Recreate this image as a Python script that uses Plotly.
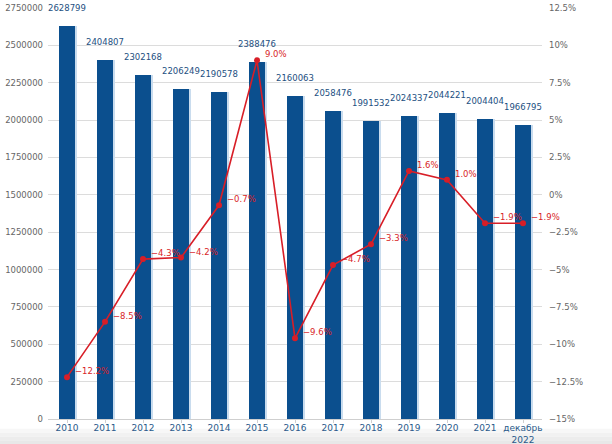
import plotly.graph_objects as go

categories = ["2010", "2011", "2012", "2013", "2014", "2015", "2016", "2017",
              "2018", "2019", "2020", "2021", "декабрь<br>2022"]
values = [2628799, 2404807, 2302168, 2206249, 2190578, 2388476, 2160063,
          2058476, 1991532, 2024337, 2044221, 2004404, 1966795]
changes = [-12.2, -8.5, -4.3, -4.2, -0.7, 9.0, -9.6, -4.7, -3.3, 1.6, 1.0, -1.9, -1.9]

left_ticks = list(range(0, 2750001, 250000))
right_ticks = [-15, -12.5, -10, -7.5, -5, -2.5, 0, 2.5, 5, 7.5, 10, 12.5]

def fmt_tick(v):
    s = ("%g" % abs(v)) + "%"
    return ("−" + s) if v < 0 else s

def fmt_label(v):
    s = ("%.1f" % abs(v)) + "%"
    return ("−" + s) if v < 0 else s

FONT = "DejaVu Sans"
BAR = "#0b4f8e"
SHADOW = "#c9dcee"
RED = "#d81e27"

x = list(range(len(categories)))

fig = go.Figure()
# shadow bars
fig.add_trace(go.Bar(x=x, y=values, width=0.4, offset=-0.2 + 0.07,
                     marker=dict(color=SHADOW, line=dict(width=0)),
                     hoverinfo="skip", showlegend=False))
fig.add_trace(go.Bar(x=x, y=values, width=0.4, offset=-0.2,
                     marker=dict(color=BAR, line=dict(width=0)),
                     showlegend=False))
fig.add_trace(go.Scatter(x=x, y=changes, yaxis="y2", mode="lines+markers",
                         line=dict(color=RED, width=1.6),
                         marker=dict(color=RED, size=6),
                         showlegend=False))

annotations = []
for xi, v in zip(x, values):
    annotations.append(dict(x=xi, y=v, xref="x", yref="y", text=str(v),
                            showarrow=False, yanchor="bottom", yshift=11,
                            font=dict(family=FONT, size=8.5, color="#1d4f7f")))
for xi, c in zip(x, changes):
    annotations.append(dict(x=xi, y=c, xref="x", yref="y2", text=fmt_label(c),
                            showarrow=False, xanchor="left", yanchor="middle",
                            xshift=6, yshift=6,
                            font=dict(family=FONT, size=8.5, color=RED)))

shapes = []
grays = ["#f7f7f7", "#f1f1f1", "#ececec", "#e8e8e8"]
for i, g in enumerate(grays):
    y0 = -0.024 - i * 0.0092
    shapes.append(dict(type="rect", xref="paper", yref="paper", x0=-0.2, x1=1.3,
                       y0=y0 - 0.0092, y1=y0, fillcolor=g, line=dict(width=0),
                       layer="below"))

fig.update_layout(
    width=612, height=444,
    margin=dict(l=48, r=70, t=8, b=25, autoexpand=False),
    paper_bgcolor="white", plot_bgcolor="white",
    barmode="overlay", bargap=0,
    font=dict(family=FONT, size=8.5, color="#666666"),
    xaxis=dict(tickmode="array", tickvals=x, ticktext=categories,
               range=[-0.5, len(categories) - 0.5], automargin=False,
               showgrid=False, showline=True, linecolor="#cfcfcf",
               ticks="outside", ticklen=3, tickcolor="#cfcfcf",
               ticklabelstandoff=-3,
               tickfont=dict(family=FONT, size=9, color="#2a5a8a")),
    yaxis=dict(range=[0, 2750000], tickmode="array", tickvals=left_ticks,
               ticktext=[str(t) for t in left_ticks], automargin=False,
               showgrid=True, gridcolor="#dcdcdc", gridwidth=1,
               zeroline=False, ticklabelstandoff=4,
               tickfont=dict(family=FONT, size=8.5, color="#666666")),
    yaxis2=dict(range=[-15, 12.5], overlaying="y", side="right",
                tickmode="array", tickvals=right_ticks, automargin=False,
                ticktext=[fmt_tick(t) for t in right_ticks],
                showgrid=False, zeroline=False, ticklabelstandoff=6,
                tickfont=dict(family=FONT, size=8.5, color="#666666")),
    annotations=annotations,
    shapes=shapes,
)

fig.write_html("out.html", config={"displayModeBar": False},
               post_script="document.body.style.margin='0';document.body.style.overflow='hidden';")
